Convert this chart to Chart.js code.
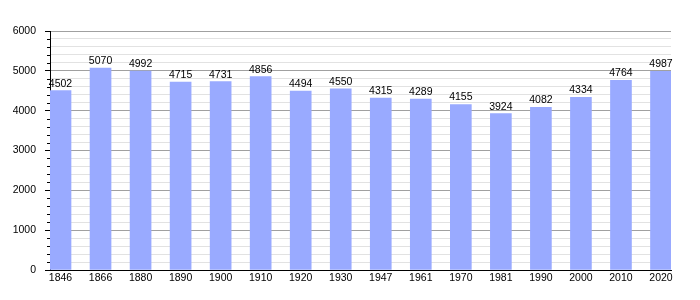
<!DOCTYPE html>
<html>
<head>
<meta charset="utf-8">
<script src="https://cdn.jsdelivr.net/npm/chart.js@4/dist/chart.umd.min.js"></script>
<style>
  html, body { margin: 0; padding: 0; background: #fff; }
  #wrap { width: 700px; height: 300px; }
</style>
</head>
<body>
<div id="wrap"><canvas id="c" width="700" height="300"></canvas></div>
<script>
const years = ['1846','1866','1880','1890','1900','1910','1920','1930','1947','1961','1970','1981','1990','2000','2010','2020'];
const population = [4502, 5070, 4992, 4715, 4731, 4856, 4494, 4550, 4315, 4289, 4155, 3924, 4082, 4334, 4764, 4987];
const yTicks = [0, 1000, 2000, 3000, 4000, 5000, 6000];

const FONT = { family: '"Liberation Sans", Arial, sans-serif', size: 10.5 };
const BAR = '#99aaff';

const valueLabels = {
  id: 'valueLabels',
  afterDatasetsDraw(chart) {
    const ctx = chart.ctx;
    const meta = chart.getDatasetMeta(0);
    ctx.save();
    ctx.font = FONT.size + 'px ' + FONT.family;
    ctx.fillStyle = '#000';
    ctx.textAlign = 'center';
    ctx.textBaseline = 'alphabetic';
    meta.data.forEach((bar, i) => {
      ctx.fillText(String(population[i]), bar.x, bar.y - 4);
    });
    ctx.restore();
  }
};

const minorTicks = {
  id: 'minorTicks',
  afterDraw(chart) {
    const y = chart.scales.y;
    const ctx = chart.ctx;
    ctx.save();
    ctx.strokeStyle = '#000';
    ctx.lineWidth = 1;
    y.ticks.forEach(t => {
      if (t.value % 1000 !== 0) {
        const py = Math.round(y.getPixelForValue(t.value)) + 0.5;
        ctx.beginPath();
        ctx.moveTo(y.right - 3, py);
        ctx.lineTo(y.right, py);
        ctx.stroke();
      }
    });
    ctx.restore();
  }
};

new Chart(document.getElementById('c'), {
  type: 'bar',
  data: {
    datasets: [{
      data: population.map((v, i) => ({ x: i, y: v })),
      backgroundColor: BAR,
      borderWidth: 0,
      barThickness: 21
    }]
  },
  options: {
    responsive: false,
    animation: false,
    devicePixelRatio: 1,
    layout: { padding: { left: 0, right: 29, top: 31, bottom: 0 } },
    plugins: { legend: { display: false }, tooltip: { enabled: false } },
    scales: {
      x: {
        type: 'linear',
        offset: false,
        min: -0.2625,
        max: 15.25,
        grid: { display: false, drawTicks: false, offset: false },
        border: { display: true, color: '#000', width: 1 },
        ticks: {
          stepSize: 1,
          includeBounds: false,
          autoSkip: false,
          maxRotation: 0,
          padding: 2,
          color: '#000',
          font: FONT,
          callback: v => (Number.isInteger(v) && years[v] !== undefined) ? years[v] : ''
        },
        afterFit: s => { s.height = 30; }
      },
      y: {
        min: yTicks[0],
        max: yTicks[yTicks.length - 1],
        grid: {
          color: ctx => (ctx.tick && ctx.tick.value % 1000 === 0) ? '#a0a0a0' : '#e2e2e2',
          tickColor: ctx => (ctx.tick && ctx.tick.value % 1000 === 0) ? '#000' : 'rgba(0,0,0,0)',
          tickLength: 5,
          drawTicks: true
        },
        border: { display: true, color: '#000', width: 1 },
        ticks: {
          stepSize: 200,
          autoSkip: false,
          padding: 9,
          color: '#000',
          font: FONT,
          callback: v => yTicks.includes(v) ? String(v) : ''
        },
        afterFit: s => { s.width = 50; }
      }
    }
  },
  plugins: [valueLabels, minorTicks]
});
</script>
</body>
</html>
